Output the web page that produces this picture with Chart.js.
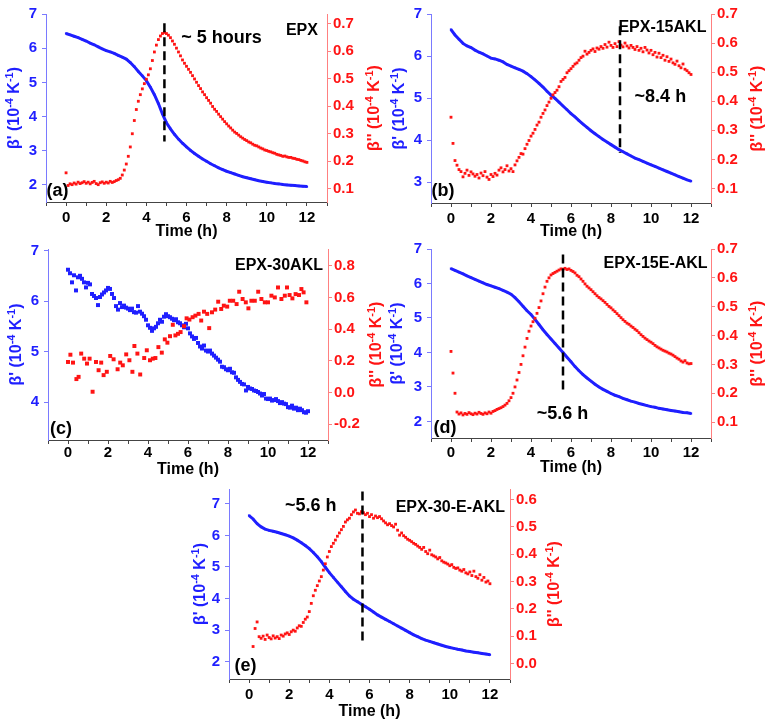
<!DOCTYPE html>
<html>
<head>
<meta charset="utf-8">
<script src="https://cdn.jsdelivr.net/npm/chart.js@4.4.0/dist/chart.umd.min.js"></script>
<style>
  body { margin: 0; background: #fff; }
  #wrap { position: relative; width: 772px; height: 725px; overflow: hidden; }
  #wrap canvas { position: absolute; }
</style>
</head>
<body>
<div id="wrap"></div>
<script>
// time grids (h)
const timeFine = [
  0,0.1,0.2,0.3,0.4,0.5,0.6,0.7,0.8,0.9,
  1,1.1,1.2,1.3,1.4,1.5,1.6,1.7,1.8,1.9,
  2,2.1,2.2,2.3,2.4,2.5,2.6,2.7,2.8,2.9,
  3,3.1,3.2,3.3,3.4,3.5,3.6,3.7,3.8,3.9,
  4,4.1,4.2,4.3,4.4,4.5,4.6,4.7,4.8,4.9,
  5,5.1,5.2,5.3,5.4,5.5,5.6,5.7,5.8,5.9,
  6,6.1,6.2,6.3,6.4,6.5,6.6,6.7,6.8,6.9,
  7,7.1,7.2,7.3,7.4,7.5,7.6,7.7,7.8,7.9,
  8,8.1,8.2,8.3,8.4,8.5,8.6,8.7,8.8,8.9,
  9,9.1,9.2,9.3,9.4,9.5,9.6,9.7,9.8,9.9,
  10,10.1,10.2,10.3,10.4,10.5,10.6,10.7,10.8,10.9,
  11,11.1,11.2,11.3,11.4,11.5,11.6,11.7,11.8,11.9,
  12
];
const timeCoarse = [
  0,0.2,0.4,0.6,0.8,1,1.2,1.4,1.6,1.8,
  2,2.2,2.4,2.6,2.8,3,3.2,3.4,3.6,3.8,
  4,4.2,4.4,4.6,4.8,5,5.2,5.4,5.6,5.8,
  6,6.2,6.4,6.6,6.8,7,7.2,7.4,7.6,7.8,
  8,8.2,8.4,8.6,8.8,9,9.2,9.4,9.6,9.8,
  10,10.2,10.4,10.6,10.8,11,11.2,11.4,11.6,11.8,
  12
];

// beta' (10^-4 K^-1) on timeCoarse
const epxBeta1 = [
  6.43,6.39,6.35,6.31,6.26,6.21,6.15,6.10,6.04,5.98,
  5.93,5.89,5.85,5.79,5.74,5.68,5.58,5.46,5.32,5.19,
  5.05,4.86,4.64,4.38,4.08,3.82,3.64,3.48,3.34,3.22,
  3.11,3.01,2.92,2.84,2.76,2.69,2.62,2.56,2.50,2.45,
  2.40,2.36,2.32,2.28,2.24,2.21,2.18,2.15,2.12,2.10,
  2.08,2.06,2.04,2.03,2.01,2.00,1.99,1.98,1.97,1.96,
  1.95
];
const akl15Beta1 = [
  6.63,6.50,6.40,6.30,6.24,6.20,6.14,6.09,6.05,6.00,
  5.95,5.93,5.90,5.86,5.80,5.76,5.72,5.68,5.64,5.58,
  5.51,5.43,5.35,5.26,5.16,5.07,4.99,4.90,4.81,4.72,
  4.63,4.55,4.46,4.38,4.30,4.22,4.15,4.08,4.01,3.95,
  3.89,3.83,3.77,3.72,3.67,3.62,3.57,3.53,3.49,3.45,
  3.41,3.37,3.33,3.29,3.25,3.21,3.17,3.13,3.09,3.05,
  3.02
];
const e15Beta1 = [
  6.43,6.38,6.33,6.28,6.22,6.17,6.12,6.07,6.02,5.97,
  5.93,5.89,5.85,5.80,5.75,5.69,5.59,5.47,5.34,5.21,
  5.10,4.96,4.81,4.66,4.52,4.39,4.26,4.13,4.00,3.86,
  3.73,3.59,3.47,3.36,3.26,3.17,3.08,3.00,2.93,2.87,
  2.81,2.76,2.72,2.67,2.63,2.59,2.56,2.52,2.49,2.46,
  2.43,2.41,2.38,2.36,2.34,2.32,2.30,2.28,2.26,2.25,
  2.23
];
const e30Beta1 = [
  6.63,6.52,6.37,6.27,6.20,6.16,6.13,6.10,6.06,6.02,
  5.98,5.92,5.85,5.77,5.68,5.58,5.46,5.32,5.17,4.99,
  4.82,4.67,4.52,4.37,4.22,4.08,3.98,3.90,3.82,3.74,
  3.66,3.57,3.48,3.41,3.34,3.27,3.20,3.13,3.06,2.99,
  2.92,2.85,2.79,2.73,2.68,2.64,2.60,2.56,2.52,2.48,
  2.45,2.42,2.39,2.37,2.34,2.32,2.30,2.28,2.26,2.24,
  2.22
];
// beta' for EPX-30AKL on timeFine (noisy)
const akl30Beta1 = [
  6.62,6.55,6.37,6.51,6.21,6.47,6.50,6.44,6.37,6.27,
  6.36,6.33,6.14,6.10,6.06,5.92,6.08,6.13,6.17,6.21,
  6.26,6.24,6.14,6.06,5.90,5.83,5.96,5.88,5.91,5.87,
  5.85,5.82,5.85,5.78,5.77,5.90,5.79,5.75,5.70,5.63,
  5.52,5.47,5.41,5.46,5.49,5.56,5.63,5.59,5.69,5.74,
  5.70,5.68,5.65,5.62,5.64,5.58,5.56,5.52,5.48,5.55,
  5.46,5.36,5.30,5.25,5.27,5.17,5.10,5.06,5.12,5.02,
  5.00,5.02,4.96,4.92,4.88,4.84,4.80,4.70,4.69,4.65,
  4.63,4.66,4.59,4.58,4.49,4.44,4.40,4.36,4.35,4.23,
  4.30,4.27,4.26,4.23,4.22,4.20,4.17,4.13,4.16,4.07,
  4.06,4.07,4.03,4.04,4.06,4.02,3.98,4.00,3.97,3.96,
  3.90,3.89,3.93,3.87,3.89,3.84,3.87,3.84,3.80,3.79,
  3.82
];

// beta'' (10^-4 K^-1) on timeFine
const epxBeta2 = [
  0.158,0.112,0.118,0.115,0.121,0.117,0.124,0.119,0.122,0.126,
  0.120,0.124,0.118,0.123,0.127,0.119,0.115,0.122,0.125,0.120,
  0.124,0.121,0.127,0.123,0.126,0.130,0.133,0.138,0.150,0.168,
  0.190,0.218,0.252,0.300,0.348,0.388,0.418,0.442,0.463,0.482,
  0.498,0.514,0.536,0.566,0.597,0.622,0.642,0.655,0.664,0.668,
  0.664,0.658,0.649,0.637,0.625,0.611,0.597,0.583,0.568,0.556,
  0.545,0.534,0.523,0.511,0.499,0.487,0.475,0.464,0.452,0.442,
  0.431,0.421,0.411,0.399,0.389,0.381,0.371,0.362,0.353,0.344,
  0.336,0.328,0.321,0.313,0.306,0.301,0.295,0.289,0.284,0.279,
  0.275,0.270,0.267,0.262,0.258,0.256,0.252,0.248,0.245,0.241,
  0.239,0.236,0.234,0.231,0.229,0.225,0.223,0.221,0.218,0.219,
  0.216,0.214,0.214,0.211,0.210,0.207,0.206,0.203,0.201,0.198,
  0.196
];
const akl15Beta2 = [
  0.345,0.255,0.196,0.180,0.165,0.158,0.140,0.152,0.163,0.145,
  0.157,0.150,0.142,0.148,0.136,0.153,0.144,0.158,0.139,0.131,
  0.148,0.141,0.152,0.146,0.163,0.171,0.157,0.165,0.178,0.160,
  0.168,0.158,0.181,0.195,0.207,0.220,0.218,0.237,0.252,0.265,
  0.280,0.290,0.303,0.318,0.328,0.345,0.358,0.370,0.385,0.397,
  0.410,0.422,0.430,0.438,0.450,0.468,0.475,0.482,0.498,0.505,
  0.512,0.520,0.528,0.532,0.541,0.550,0.555,0.572,0.562,0.568,
  0.575,0.580,0.571,0.583,0.579,0.588,0.582,0.595,0.586,0.603,
  0.592,0.585,0.598,0.588,0.605,0.593,0.587,0.600,0.590,0.583,
  0.592,0.585,0.578,0.588,0.575,0.582,0.570,0.585,0.576,0.566,
  0.575,0.560,0.568,0.552,0.565,0.550,0.558,0.541,0.553,0.537,
  0.545,0.532,0.527,0.538,0.522,0.515,0.528,0.510,0.505,0.498,
  0.492
];
const e15Beta2 = [
  0.345,0.270,0.200,0.135,0.128,0.132,0.125,0.130,0.127,0.133,
  0.129,0.126,0.131,0.128,0.134,0.130,0.127,0.132,0.129,0.135,
  0.131,0.137,0.140,0.144,0.147,0.150,0.154,0.159,0.165,0.174,
  0.185,0.200,0.222,0.246,0.272,0.300,0.330,0.360,0.390,0.415,
  0.433,0.448,0.460,0.477,0.497,0.520,0.545,0.568,0.588,0.600,
  0.610,0.615,0.619,0.623,0.627,0.631,0.630,0.633,0.629,0.631,
  0.626,0.622,0.617,0.609,0.604,0.596,0.588,0.579,0.571,0.565,
  0.559,0.552,0.545,0.538,0.532,0.527,0.521,0.515,0.508,0.501,
  0.496,0.489,0.483,0.476,0.469,0.462,0.455,0.449,0.443,0.439,
  0.433,0.428,0.422,0.417,0.410,0.403,0.397,0.391,0.386,0.381,
  0.377,0.372,0.366,0.361,0.357,0.353,0.349,0.346,0.343,0.339,
  0.336,0.332,0.327,0.322,0.318,0.312,0.308,0.313,0.305,0.302,
  0.303
];
const e30Beta2 = [
  null,null,0.062,0.128,0.152,0.098,0.092,0.100,0.088,0.104,
  0.095,0.090,0.101,0.093,0.098,0.091,0.104,0.100,0.108,0.112,
  0.106,0.116,0.122,0.118,0.130,0.138,0.136,0.150,0.162,0.170,
  0.190,0.220,0.248,0.268,0.285,0.302,0.318,0.342,0.365,0.390,
  0.410,0.428,0.440,0.452,0.466,0.478,0.490,0.502,0.518,0.526,
  0.532,0.545,0.555,0.562,0.550,0.548,0.556,0.552,0.545,0.550,
  0.538,0.545,0.532,0.540,0.534,0.538,0.530,0.522,0.515,0.508,
  0.512,0.505,0.500,0.510,0.488,0.470,0.478,0.468,0.462,0.455,
  0.451,0.446,0.440,0.436,0.430,0.425,0.418,0.425,0.410,0.402,
  0.415,0.398,0.394,0.390,0.383,0.388,0.376,0.371,0.368,0.364,
  0.358,0.362,0.352,0.348,0.350,0.342,0.338,0.344,0.332,0.328,
  0.335,0.322,0.338,0.318,0.312,0.325,0.305,0.315,0.298,0.302,
  0.292
];
// beta'' for EPX-30AKL (sparse)
const akl30Beta2Time = [
  0,0.12,0.25,0.42,0.53,0.66,0.81,0.95,1.08,1.23,
  1.40,1.53,1.66,1.78,1.94,2.11,2.28,2.48,2.61,2.74,
  2.91,3.07,3.22,3.32,3.47,3.61,3.81,3.94,4.10,4.24,
  4.37,4.52,4.69,4.84,4.97,5.10,5.24,5.37,5.50,5.63,
  5.80,5.93,6.07,6.23,6.37,6.53,6.66,6.80,6.96,7.06,
  7.20,7.36,7.51,7.66,7.79,7.96,8.09,8.26,8.43,8.56,
  8.73,8.89,9.02,9.17,9.34,9.51,9.67,9.84,10.0,10.17,
  10.34,10.50,10.67,10.84,10.95,11.08,11.22,11.38,11.55,11.67,
  11.78,11.92
];
const akl30Beta2 = [
  0.193,0.239,0.189,0.085,0.099,0.246,0.214,0.183,0.214,0.005,
  0.193,0.141,0.189,0.110,0.131,0.231,0.210,0.147,0.189,0.172,
  0.241,0.204,0.131,0.294,0.246,0.114,0.218,0.267,0.204,0.214,
  0.218,0.287,0.252,0.336,0.315,0.356,0.428,0.361,0.371,0.382,
  0.419,0.469,0.461,0.476,0.486,0.497,0.455,0.511,0.497,0.407,
  0.507,0.524,0.574,0.528,0.549,0.543,0.580,0.580,0.559,0.637,
  0.591,0.570,0.532,0.580,0.580,0.637,0.591,0.570,0.570,0.612,
  0.601,0.664,0.591,0.612,0.664,0.616,0.595,0.622,0.616,0.654,
  0.633,0.570
];

// gel-point markers: time (h), top and bottom on the beta' axis
const peakTime   = [4.9, 8.45, null, 5.6, 5.65];
const peakTop    = [6.73, 6.71, null, 6.84, 7.39];
const peakBottom = [3.27, 3.69, null, 2.91, 2.58];

const BLUE = '#1f1fff';
const RED = '#ff1414';
const FONT = '"Liberation Sans", Arial, Helvetica, sans-serif';
Chart.defaults.font.family = FONT;

const leftTitle = [["β' (10", false], ["-4", true], [" K", false], ["-1", true], [")", false]];
const rightTitle = [["β'' (10", false], ["-4", true], [" K", false], ["-1", true], [")", false]];

function pts(xs, ys) {
  const out = [];
  for (let i = 0; i < xs.length; i++) {
    if (ys[i] !== null && ys[i] !== undefined) out.push({x: xs[i], y: ys[i]});
  }
  return out;
}

// rotated title reading bottom-to-top, with superscripts
function drawSideTitle(ctx, parts, cx, cy, color) {
  const big = 'bold 16px ' + FONT;
  const small = 'bold 11px ' + FONT;
  ctx.save();
  let total = 0;
  parts.forEach(p => { ctx.font = p[1] ? small : big; total += ctx.measureText(p[0]).width; });
  ctx.translate(cx, cy);
  ctx.rotate(-Math.PI / 2);
  ctx.fillStyle = color;
  ctx.textAlign = 'left';
  ctx.textBaseline = 'middle';
  let x = -total / 2;
  parts.forEach(p => {
    ctx.font = p[1] ? small : big;
    ctx.fillText(p[0], x, p[1] ? -5 : 0);
    x += ctx.measureText(p[0]).width;
  });
  ctx.restore();
}

function textPlugin(p) {
  return {
    id: 'panelText',
    afterDraw(chart) {
      const ctx = chart.ctx;
      const xs = chart.scales.x, ys = chart.scales.y, area = chart.chartArea;
      const cy = (area.top + area.bottom) / 2;
      drawSideTitle(ctx, leftTitle, p.titleX[0], cy, BLUE);
      drawSideTitle(ctx, rightTitle, p.w - p.titleX[1], cy, RED);
      p.labels.forEach(l => {
        ctx.save();
        ctx.font = 'bold ' + l.size + 'px ' + FONT;
        ctx.fillStyle = '#000';
        ctx.textAlign = l.align;
        ctx.textBaseline = 'middle';
        ctx.fillText(l.text, xs.getPixelForValue(l.x), ys.getPixelForValue(l.y));
        ctx.restore();
      });
    }
  };
}

function makePanel(p) {
  const canvas = document.createElement('canvas');
  canvas.width = p.w;
  canvas.height = p.h;
  canvas.style.left = p.left + 'px';
  canvas.style.top = p.top + 'px';
  document.getElementById('wrap').appendChild(canvas);

  const datasets = [];
  const k = p.index;
  if (peakTime[k] !== null) {
    datasets.push({
      data: [{x: peakTime[k], y: peakTop[k]}, {x: peakTime[k], y: peakBottom[k]}],
      yAxisID: 'y', showLine: true, borderColor: '#000', borderWidth: 2.5,
      borderDash: [9, 5], pointRadius: 0
    });
  }
  datasets.push({
    data: p.red, yAxisID: 'y2', showLine: false, pointStyle: 'rect',
    pointRadius: p.redR, pointBorderWidth: 0, pointBackgroundColor: RED
  });
  datasets.push({
    data: p.blue, yAxisID: 'y', showLine: p.blueLine, borderColor: BLUE, borderWidth: 3,
    pointStyle: 'rect', pointRadius: p.blueR, pointBorderWidth: 0, pointBackgroundColor: BLUE
  });

  new Chart(canvas, {
    type: 'scatter',
    data: {datasets},
    options: {
      responsive: false,
      animation: false,
      events: [],
      layout: {padding: {top: 13, left: 0, right: 0, bottom: 0}},
      plugins: {legend: {display: false}, tooltip: {enabled: false}},
      scales: {
        x: {
          type: 'linear', position: 'bottom', min: -1, max: 13,
          afterFit: s => { s.height = p.xH; },
          ticks: {
            stepSize: 1, autoSkip: false, maxRotation: 0, color: '#000',
            padding: p.xTickPad, font: {size: 15, weight: 'bold'},
            callback: v => (v >= 0 && v <= 12 && v % 2 === 0) ? String(v) : ''
          },
          grid: {drawOnChartArea: false, tickLength: 4, color: '#444'},
          border: {color: '#444', width: 1},
          title: {
            display: true, text: 'Time (h)', color: '#000',
            font: {size: 16, weight: 'bold', lineHeight: 1},
            padding: {top: 0, bottom: p.xTitlePad}
          }
        },
        y: {
          type: 'linear', position: 'left', min: p.y1[0], max: p.y1[1],
          afterFit: s => { s.width = p.leftW; },
          ticks: {
            stepSize: 1, includeBounds: false, color: BLUE, padding: 5,
            font: {size: 15, weight: 'bold'}
          },
          grid: {drawOnChartArea: false, tickLength: 4, color: '#7a7aff'},
          border: {color: '#7a7aff', width: 1}
        },
        y2: {
          type: 'linear', position: 'right', min: p.y2[0], max: p.y2[1],
          afterFit: s => { s.width = p.rightW; },
          ticks: {
            stepSize: p.y2[2], includeBounds: false, color: RED, padding: 2,
            font: {size: 15, weight: 'bold'},
            callback: v => Number(v).toFixed(1)
          },
          grid: {drawOnChartArea: false, tickLength: 4, color: '#ff8080'},
          border: {color: '#ff8080', width: 1}
        }
      }
    },
    plugins: [textPlugin(p)]
  });
}

const panels = [
  {index: 0, left: 0, top: 0, w: 385, h: 240, leftW: 46, rightW: 58, xH: 38, xTickPad: 3, xTitlePad: 0,
   y1: [1.5, 7], y2: [0.052, 0.735, 0.1], titleX: [15, 10],
   blue: pts(timeCoarse, epxBeta1), blueLine: true, blueR: 1.6,
   red: pts(timeFine, epxBeta2), redR: 2,
   labels: [
     {text: '~ 5 hours', x: 5.74, y: 6.31, align: 'left', size: 18},
     {text: 'EPX', x: 12.55, y: 6.52, align: 'right', size: 16},
     {text: '(a)', x: -0.97, y: 1.81, align: 'left', size: 18}
   ]},
  {index: 1, left: 385, top: 0, w: 387, h: 240, leftW: 46, rightW: 61, xH: 37, xTickPad: 3, xTitlePad: 0,
   y1: [2.5, 7], y2: [0.05, 0.7, 0.1], titleX: [15, 14],
   blue: pts(timeCoarse, akl15Beta1), blueLine: true, blueR: 1.6,
   red: pts(timeFine, akl15Beta2), redR: 2,
   labels: [
     {text: 'EPX-15AKL', x: 12.77, y: 6.67, align: 'right', size: 16},
     {text: '~8.4 h', x: 9.18, y: 5.02, align: 'left', size: 18},
     {text: '(b)', x: -0.97, y: 2.79, align: 'left', size: 18}
   ]},
  {index: 2, left: 0, top: 235, w: 395, h: 245, leftW: 48, rightW: 67, xH: 40, xTickPad: 0, xTitlePad: 2,
   y1: [3.25, 7.03], y2: [-0.3, 0.907, 0.2], titleX: [17, 18],
   blue: pts(timeFine, akl30Beta1), blueLine: false, blueR: 2.8,
   red: pts(akl30Beta2Time, akl30Beta2), redR: 2.8,
   labels: [
     {text: 'EPX-30AKL', x: 12.75, y: 6.70, align: 'right', size: 16},
     {text: '(c)', x: -0.9, y: 3.47, align: 'left', size: 18}
   ]},
  {index: 3, left: 385, top: 235, w: 387, h: 245, leftW: 46, rightW: 61, xH: 42, xTickPad: 2, xTitlePad: 4,
   y1: [1.52, 7], y2: [0.045, 0.7, 0.1], titleX: [13, 14],
   blue: pts(timeCoarse, e15Beta1), blueLine: true, blueR: 1.6,
   red: pts(timeFine, e15Beta2), redR: 2,
   labels: [
     {text: 'EPX-15E-AKL', x: 12.83, y: 6.58, align: 'right', size: 16},
     {text: '~5.6 h', x: 5.57, y: 2.22, align: 'center', size: 18},
     {text: '(d)', x: -0.87, y: 1.81, align: 'left', size: 18}
   ]},
  {index: 4, left: 180, top: 475, w: 400, h: 250, leftW: 49, rightW: 70, xH: 46, xTickPad: 3, xTitlePad: 5,
   y1: [1.45, 7.47], y2: [-0.057, 0.639, 0.1], titleX: [21, 25],
   blue: pts(timeCoarse, e30Beta1), blueLine: true, blueR: 1.6,
   red: pts(timeFine, e30Beta2), redR: 2,
   labels: [
     {text: '~5.6 h', x: 3.07, y: 6.93, align: 'center', size: 18},
     {text: 'EPX-30-E-AKL', x: 12.75, y: 6.87, align: 'right', size: 16},
     {text: '(e)', x: -0.72, y: 1.87, align: 'left', size: 18}
   ]}
];

panels.forEach(makePanel);
</script>
</body>
</html>
